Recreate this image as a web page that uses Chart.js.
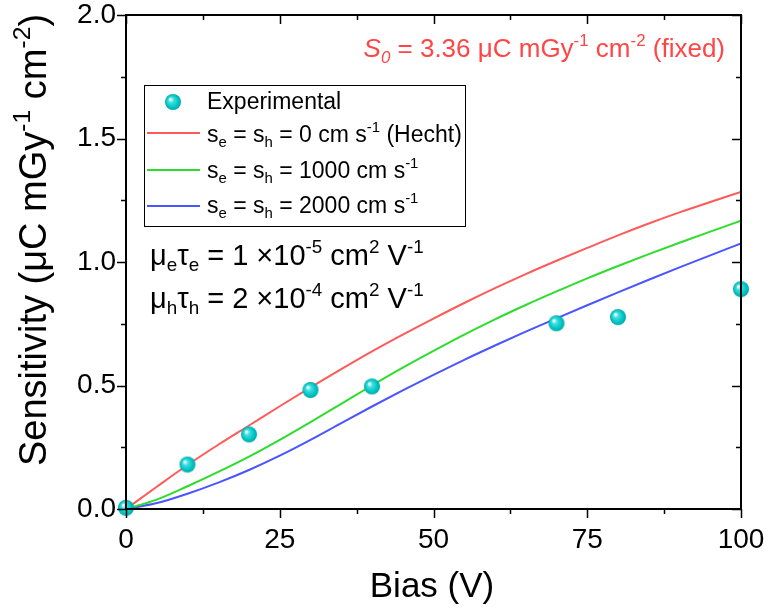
<!DOCTYPE html>
<html>
<head>
<meta charset="utf-8">
<script src="https://cdn.jsdelivr.net/npm/chart.js@4.4.0/dist/chart.umd.min.js"></script>
<style>
  html, body { margin: 0; padding: 0; background: #fff; }
  #wrap { width: 768px; height: 616px; }
</style>
</head>
<body>
<div id="wrap"><canvas id="chart" width="768" height="616"></canvas></div>
<script>
// measured points
const expBias = [0, 10, 20, 30, 40, 70, 80, 100];
const expSens = [0.005, 0.180, 0.302, 0.482, 0.496, 0.752, 0.777, 0.890];

const biasGrid = [0, 5, 10, 15, 20, 25, 30, 35, 40, 45, 50, 55, 60, 65, 70, 75, 80, 85, 90, 95, 100];
const hecht  = [0, 0.090, 0.178, 0.260, 0.338, 0.416, 0.492, 0.566, 0.638, 0.706, 0.771, 0.834, 0.894, 0.951, 1.005, 1.057, 1.108, 1.156, 1.201, 1.243, 1.284];
const s1000  = [0, 0.038, 0.092, 0.150, 0.212, 0.280, 0.352, 0.426, 0.500, 0.572, 0.640, 0.706, 0.768, 0.826, 0.881, 0.934, 0.984, 1.032, 1.078, 1.123, 1.167];
const s2000  = [0, 0.024, 0.062, 0.107, 0.158, 0.216, 0.280, 0.348, 0.415, 0.480, 0.543, 0.604, 0.662, 0.718, 0.772, 0.825, 0.877, 0.928, 0.978, 1.027, 1.075];

const xTicks = [0, 25, 50, 75, 100];
const yTicks = [0, 0.5, 1.0, 1.5, 2.0];

const RED = '#ff5a5a', GREEN = '#2edc2e', BLUE = '#4a55ff';
const FONT = '"Liberation Sans", Arial, sans-serif';

// cyan ball marker
function makeBall(r) {
    const c = document.createElement('canvas');
    c.width = c.height = r * 2 + 2;
    const g = c.getContext('2d');
    const cx = r + 1, cy = r + 1;
    const grad = g.createRadialGradient(cx - r * 0.35, cy - r * 0.35, 0.5, cx, cy, r);
    grad.addColorStop(0, '#ffffff');
    grad.addColorStop(0.3, '#40dede');
    grad.addColorStop(0.75, '#00c4c4');
    grad.addColorStop(1, '#00a6a6');
    g.fillStyle = grad;
    g.beginPath();
    g.arc(cx, cy, r, 0, Math.PI * 2);
    g.fill();
    return c;
}
const ball = makeBall(8);

const pts = (xs, ys) => xs.map((x, i) => ({ x: x, y: ys[i] }));

// text with sub/superscripts: parts = [[text, kind], ...]
function richWidth(ctx, parts, size) {
    let w = 0;
    parts.forEach(([t, k]) => {
        const s = (k === 'sub' || k === 'sup' || k === 'isub') ? size * 0.65 : size;
        ctx.font = ((k === 'i' || k === 'isub') ? 'italic ' : '') + s + 'px ' + FONT;
        w += ctx.measureText(t).width;
    });
    return w;
}
function richText(ctx, x, y, parts, size, color) {
    ctx.fillStyle = color;
    ctx.textBaseline = 'alphabetic';
    ctx.textAlign = 'left';
    parts.forEach(([t, k]) => {
        let s = size, dy = 0;
        if (k === 'sub' || k === 'isub') { s = size * 0.65; dy = size * 0.22; }
        if (k === 'sup') { s = size * 0.65; dy = -size * 0.42; }
        ctx.font = ((k === 'i' || k === 'isub') ? 'italic ' : '') + s + 'px ' + FONT;
        ctx.fillText(t, x, y + dy);
        x += ctx.measureText(t).width;
    });
}

const decorations = {
    id: 'decorations',
    afterDraw(chart) {
        const ctx = chart.ctx;
        const a = chart.chartArea;
        const xs = chart.scales.x, ys = chart.scales.y;
        ctx.save();

        // frame
        ctx.strokeStyle = '#000';
        ctx.lineWidth = 2;
        ctx.strokeRect(a.left, a.top, a.right - a.left, a.bottom - a.top);

        // ticks: out on bottom/left, in on top/right
        ctx.lineWidth = 1.5;
        ctx.beginPath();
        for (let v = 0; v <= 100; v += 12.5) {
            const len = (v % 25 === 0) ? 9 : 5;
            const px = Math.round(xs.getPixelForValue(v)) + 0.5;
            ctx.moveTo(px, a.bottom); ctx.lineTo(px, a.bottom + len);
            ctx.moveTo(px, a.top); ctx.lineTo(px, a.top + len);
        }
        for (let v = 0; v <= 2.0001; v += 0.25) {
            const len = (Math.abs(v * 2 - Math.round(v * 2)) < 1e-6) ? 9 : 5;
            const py = Math.round(ys.getPixelForValue(v)) + 0.5;
            ctx.moveTo(a.left, py); ctx.lineTo(a.left - len, py);
            ctx.moveTo(a.right, py); ctx.lineTo(a.right - len, py);
        }
        ctx.stroke();

        // legend
        ctx.lineWidth = 1;
        ctx.strokeStyle = '#000';
        ctx.strokeRect(144.5, 85.5, 321, 141);
        ctx.drawImage(ball, 173 - 9, 102 - 9);
        const lsize = 23;
        richText(ctx, 207, 109, [['Experimental', '']], lsize, '#000');
        const rows = [
            [RED, 133, 142, [['s', ''], ['e', 'sub'], [' = s', ''], ['h', 'sub'], [' = 0 cm s', ''], ['-1', 'sup'], [' (Hecht)', '']]],
            [GREEN, 170, 178, [['s', ''], ['e', 'sub'], [' = s', ''], ['h', 'sub'], [' = 1000 cm s', ''], ['-1', 'sup']]],
            [BLUE, 206, 213, [['s', ''], ['e', 'sub'], [' = s', ''], ['h', 'sub'], [' = 2000 cm s', ''], ['-1', 'sup']]]
        ];
        rows.forEach(([col, ly, by, parts]) => {
            ctx.strokeStyle = col;
            ctx.lineWidth = 2;
            ctx.beginPath();
            ctx.moveTo(147, ly); ctx.lineTo(200, ly);
            ctx.stroke();
            richText(ctx, 207, by, parts, lsize, '#000');
        });

        // mobility-lifetime notes
        richText(ctx, 150, 265, [['μ', ''], ['e', 'sub'], ['τ', ''], ['e', 'sub'], [' = 1 ×10', ''], ['-5', 'sup'], [' cm', ''], ['2', 'sup'], [' V', ''], ['-1', 'sup']], 29, '#000');
        richText(ctx, 150, 308, [['μ', ''], ['h', 'sub'], ['τ', ''], ['h', 'sub'], [' = 2 ×10', ''], ['-4', 'sup'], [' cm', ''], ['2', 'sup'], [' V', ''], ['-1', 'sup']], 29, '#000');

        // S0 note, right aligned
        const s0 = [['S', 'i'], ['0', 'isub'], [' = 3.36 μC mGy', ''], ['-1', 'sup'], [' cm', ''], ['-2', 'sup'], [' (fixed)', '']];
        const s0w = richWidth(ctx, s0, 26);
        richText(ctx, 725 - s0w, 57, s0, 26, '#ff4545');

        // axis titles
        const xt = [['Bias (V)', '']];
        const xtw = richWidth(ctx, xt, 35);
        richText(ctx, 432 - xtw / 2, 597, xt, 35, '#000');

        const yt = [['Sensitivity (μC mGy', ''], ['-1', 'sup'], [' cm', ''], ['-2', 'sup'], [')', '']];
        const ytw = richWidth(ctx, yt, 38);
        ctx.translate(46, 240);
        ctx.rotate(-Math.PI / 2);
        richText(ctx, -ytw / 2, 0, yt, 38, '#000');

        ctx.restore();
    }
};

// keep the plot box where the reference has it
function noPad(s) {
    s.paddingTop = 0; s.paddingBottom = 0;
    s.paddingLeft = 0; s.paddingRight = 0;
}

new Chart(document.getElementById('chart').getContext('2d'), {
    type: 'scatter',
    data: {
        datasets: [
            {
                label: 'Experimental',
                data: pts(expBias, expSens),
                pointStyle: ball,
                pointRadius: 8,
                clip: false,
                order: 0
            },
            {
                label: 'Hecht',
                type: 'line',
                data: pts(biasGrid, hecht),
                borderColor: RED,
                borderWidth: 2,
                pointRadius: 0,
                cubicInterpolationMode: 'monotone',
                order: 1
            },
            {
                label: '1000',
                type: 'line',
                data: pts(biasGrid, s1000),
                borderColor: GREEN,
                borderWidth: 2,
                pointRadius: 0,
                cubicInterpolationMode: 'monotone',
                order: 2
            },
            {
                label: '2000',
                type: 'line',
                data: pts(biasGrid, s2000),
                borderColor: BLUE,
                borderWidth: 2,
                pointRadius: 0,
                cubicInterpolationMode: 'monotone',
                order: 3
            }
        ]
    },
    options: {
        responsive: false,
        animation: false,
        layout: { padding: { left: 0, top: 15, right: 27, bottom: 0 } },
        plugins: { legend: { display: false }, tooltip: { enabled: false } },
        scales: {
            x: {
                type: 'linear',
                min: 0, max: 100,
                grid: { display: false, drawTicks: false },
                border: { display: false },
                afterBuildTicks: s => { s.ticks = xTicks.map(v => ({ value: v })); },
                afterFit: s => { s.height = 107; noPad(s); },
                ticks: { color: '#000', padding: 14, maxRotation: 0, font: { family: FONT, size: 28 } }
            },
            y: {
                min: 0, max: 2.0,
                grid: { display: false, drawTicks: false },
                border: { display: false },
                afterBuildTicks: s => { s.ticks = yTicks.map(v => ({ value: v })); },
                afterFit: s => { s.width = 126; noPad(s); },
                ticks: {
                    color: '#000', padding: 10, font: { family: FONT, size: 28 },
                    callback: v => v.toFixed(1)
                }
            }
        }
    },
    plugins: [decorations]
});
</script>
</body>
</html>
